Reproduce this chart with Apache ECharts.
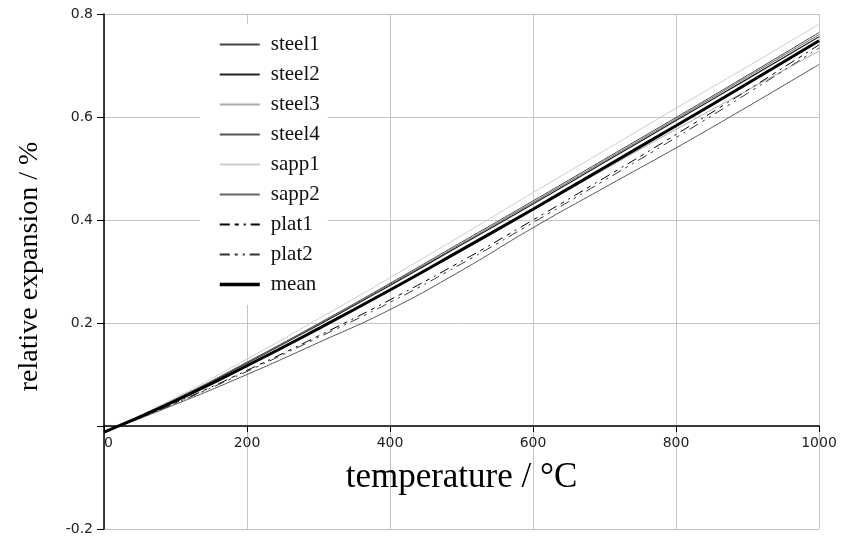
<!DOCTYPE html>
<html>
<head>
<meta charset="utf-8">
<script src="https://cdn.jsdelivr.net/npm/echarts@6/dist/echarts.min.js"></script>
<style>
  html, body { margin: 0; padding: 0; background: #fff; }
  #chart { width: 843px; height: 542px; }
</style>
</head>
<body>
<div id="chart"></div>
<script>
const temps = [0, 100, 200, 300, 400, 500, 600, 700, 800, 900, 1000]

const steel1 = [-0.013, 0.052, 0.124, 0.199, 0.277, 0.357, 0.437, 0.518, 0.599, 0.681, 0.764]
const steel2 = [-0.013, 0.051, 0.122, 0.196, 0.273, 0.352, 0.431, 0.512, 0.593, 0.674, 0.756]
const steel3 = [-0.012, 0.050, 0.119, 0.191, 0.265, 0.342, 0.420, 0.498, 0.576, 0.652, 0.728]
const steel4 = [-0.012, 0.042, 0.100, 0.162, 0.226, 0.302, 0.385, 0.463, 0.540, 0.620, 0.702]
const sapp1 = [-0.012, 0.055, 0.130, 0.208, 0.288, 0.370, 0.453, 0.535, 0.617, 0.698, 0.780]
const sapp2 = [-0.013, 0.052, 0.123, 0.198, 0.275, 0.354, 0.434, 0.515, 0.596, 0.678, 0.760]
const plat1 = [-0.012, 0.045, 0.108, 0.175, 0.245, 0.320, 0.400, 0.482, 0.566, 0.652, 0.740]
const plat2 = [-0.012, 0.044, 0.106, 0.172, 0.240, 0.315, 0.395, 0.477, 0.560, 0.646, 0.734]
const mean = [-0.012, 0.049, 0.117, 0.189, 0.264, 0.342, 0.421, 0.502, 0.583, 0.665, 0.748]

const seriesDefs = [
  { name: 'steel1', data: steel1, color: '#444', width: 1, type: 'solid' },
  { name: 'steel2', data: steel2, color: '#222', width: 1.2, type: 'solid' },
  { name: 'steel3', data: steel3, color: '#aaa', width: 1, type: 'solid' },
  { name: 'steel4', data: steel4, color: '#555', width: 1, type: 'solid' },
  { name: 'sapp1', data: sapp1, color: '#ccc', width: 1, type: 'solid' },
  { name: 'sapp2', data: sapp2, color: '#666', width: 1, type: 'solid' },
  { name: 'plat1', data: plat1, color: '#000', width: 1, type: [10, 5, 4, 5, 2, 5] },
  { name: 'plat2', data: plat2, color: '#333', width: 1, type: [10, 5, 3, 5, 2, 5] },
  { name: 'mean', data: mean, color: '#000', width: 3, type: 'solid' }
]

const chart = echarts.init(document.getElementById('chart'))

// grid bottom is at -0.2, x axis drawn at 0 => 1/5 of the plot height above it
const plotH = 542 - 14 - 13
const zeroOffset = -Math.round(plotH / 5)

const option = {
  animation: false,
  grid: { left: 104, right: 24, top: 14, bottom: 13, outerBoundsMode: 'none', containLabel: false },
  legend: {
    orient: 'vertical',
    left: 200,
    top: 24,
    padding: [10, 8, 10, 18],
    backgroundColor: '#fff',
    itemWidth: 40,
    itemHeight: 14,
    itemGap: 9,
    itemStyle: { opacity: 0 },
    textStyle: {
      fontFamily: 'Liberation Serif',
      fontSize: 21,
      lineHeight: 20,
      color: '#111',
      padding: [0, 0, 0, 6]
    },
    data: seriesDefs.map(s => (s.width > 2 ? { name: s.name, lineStyle: { width: 3.5 } } : s.name))
  },
  xAxis: {
    type: 'value',
    min: 0,
    max: 1000,
    interval: 200,
    offset: zeroOffset,
    name: 'temperature / °C',
    nameLocation: 'middle',
    nameGap: 34,
    nameTextStyle: { fontFamily: 'Liberation Serif', fontSize: 35, color: '#000' },
    axisLine: { onZero: false, lineStyle: { color: '#000', width: 1.5 } },
    axisTick: { show: true, length: 6, lineStyle: { color: '#000' } },
    axisLabel: {
      fontFamily: 'DejaVu Sans',
      fontSize: 14,
      color: '#222',
      margin: 10,
      alignMinLabel: 'left',
      formatter: v => String(v)
    },
    splitLine: { show: true, lineStyle: { color: '#c4c4c4', width: 1 } }
  },
  yAxis: {
    type: 'value',
    min: -0.2,
    max: 0.8,
    interval: 0.2,
    name: 'relative expansion / %',
    nameLocation: 'middle',
    nameGap: 60,
    nameTextStyle: { fontFamily: 'Liberation Serif', fontSize: 28, color: '#000', padding: [0, 0, 0, 10] },
    axisLine: { show: true, onZero: false, lineStyle: { color: '#000', width: 1.5 } },
    axisTick: { show: true, length: 7, lineStyle: { color: '#000' } },
    axisLabel: {
      fontFamily: 'DejaVu Sans',
      fontSize: 14,
      color: '#222',
      margin: 11,
      formatter: v => (Math.abs(v) < 1e-9 ? '' : String(Math.round(v * 10) / 10))
    },
    splitLine: { show: true, lineStyle: { color: '#c4c4c4', width: 1 } }
  },
  series: seriesDefs.map(s => ({
    name: s.name,
    type: 'line',
    symbol: 'none',
    smooth: true,
    data: temps.map((t, i) => [t, s.data[i]]),
    lineStyle: { color: s.color, width: s.width, type: s.type },
    itemStyle: { color: s.color }
  }))
}

chart.setOption(option)
</script>
</body>
</html>
